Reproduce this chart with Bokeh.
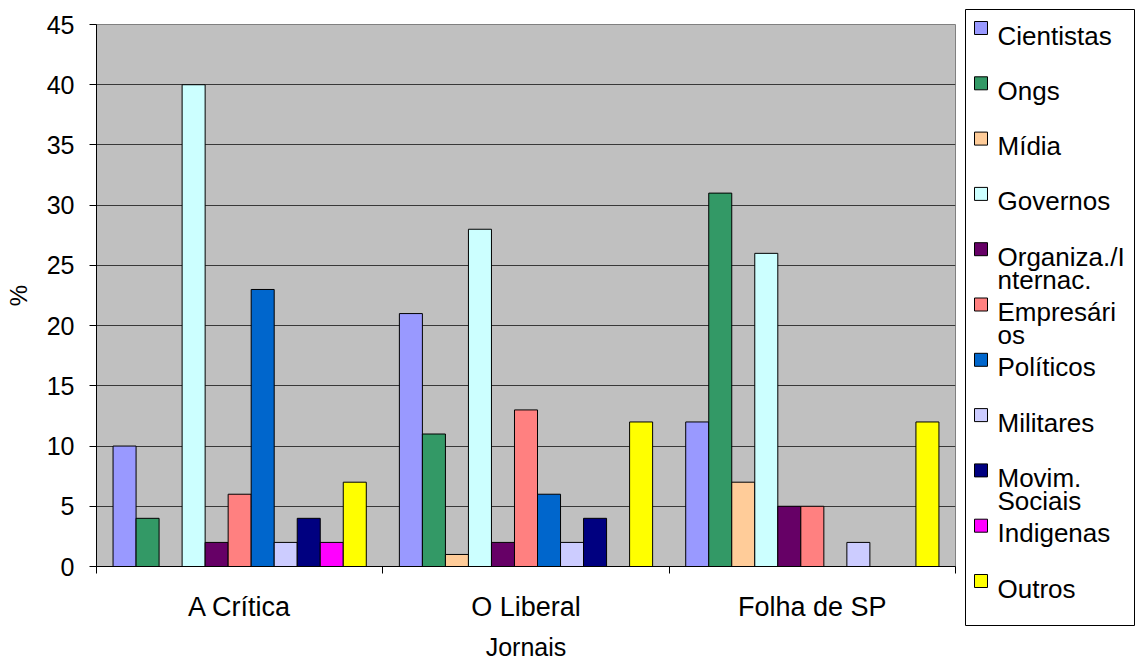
from bokeh.plotting import figure
from bokeh.layouts import row, column
from bokeh.models import ColumnDataSource, FixedTicker, Range1d
from bokeh.core.properties import value
from bokeh.embed import file_html
from bokeh.resources import INLINE

jornais = ["A Crítica", "O Liberal", "Folha de SP"]
series = ["Cientistas", "Ongs", "Mídia", "Governos", "Organiza./I\nnternac.",
          "Empresári\nos", "Políticos", "Militares", "Movim.\nSociais", "Indigenas", "Outros"]
colors = ["#9999FF", "#339966", "#FFCC99", "#CCFFFF", "#660066", "#FF8080",
          "#0066CC", "#CCCCFF", "#000080", "#FF00FF", "#FFFF00"]
cientistas = [10, 21, 12]
ongs = [4, 11, 31]
midia = [0, 1, 7]
governos = [40, 28, 26]
organiza = [2, 2, 5]
empresarios = [6, 13, 5]
politicos = [23, 6, 0]
militares = [2, 2, 2]
movim = [4, 4, 0]
indigenas = [2, 0, 0]
outros = [7, 12, 12]
values = [cientistas, ongs, midia, governos, organiza, empresarios,
          politicos, militares, movim, indigenas, outros]
y_ticks = list(range(0, 50, 5))

FONT = "Liberation Sans"
W, H = 1140, 663
left, right, top, bottom = 96, 955, 24, 566
PW = right + 1

p = figure(width=PW, height=H, output_backend="svg", toolbar_location=None,
           x_range=Range1d(0, 3), y_range=Range1d(0, 45),
           min_border_left=left, min_border_right=PW - right,
           min_border_top=top, min_border_bottom=H - bottom)
p.background_fill_color = "#C0C0C0"
p.border_fill_color = "white"
p.outline_line_color = "#808080"
p.outline_line_width = 1

bw = 0.0804
for j, (name, col, vals) in enumerate(zip(series, colors, values)):
    xs, tops = [], []
    for i, v in enumerate(vals):
        if v > 0:
            xs.append(i + 0.5 + (j - 5) * bw)
            tops.append(v)
    src = ColumnDataSource(dict(x=xs, top=tops))
    p.vbar(x="x", top="top", bottom=0, width=bw, source=src,
           fill_color=col, line_color="black", line_width=1)

# axes
p.xgrid.visible = False
p.ygrid.grid_line_color = "#383838"
p.ygrid.grid_line_width = 1
p.ygrid.ticker = FixedTicker(ticks=y_ticks)

p.yaxis.ticker = FixedTicker(ticks=y_ticks)
p.yaxis.axis_line_color = "black"
p.yaxis.major_tick_line_color = "black"
p.yaxis.major_tick_out = 7
p.yaxis.major_tick_in = 0
p.yaxis.minor_tick_line_color = None
p.yaxis.major_label_text_font = FONT
p.yaxis.major_label_text_font_size = "25px"
p.yaxis.major_label_text_color = "black"
p.yaxis.major_label_standoff = 15
p.yaxis.axis_label = "%"
p.yaxis.axis_label_text_font = FONT
p.yaxis.axis_label_text_font_size = "24px"
p.yaxis.axis_label_text_font_style = "normal"
p.yaxis.axis_label_text_color = "black"
p.yaxis.axis_label_standoff = 12

p.xaxis.ticker = FixedTicker(ticks=[0.5, 1.5, 2.5], minor_ticks=[0, 1, 2, 3])
p.xaxis.major_label_overrides = {0.5: jornais[0], 1.5: jornais[1], 2.5: jornais[2]}
p.xaxis.axis_line_color = "black"
p.xaxis.major_tick_line_color = None
p.xaxis.minor_tick_line_color = "black"
p.xaxis.minor_tick_out = 7
p.xaxis.minor_tick_in = 0
p.xaxis.major_label_text_font = FONT
p.xaxis.major_label_text_font_size = "27px"
p.xaxis.major_label_text_color = "black"
p.xaxis.major_label_standoff = 18
p.xaxis.axis_label = "Jornais"
p.xaxis.axis_label_text_font = FONT
p.xaxis.axis_label_text_font_size = "25px"
p.xaxis.axis_label_text_font_style = "normal"
p.xaxis.axis_label_text_color = "black"
p.xaxis.axis_label_standoff = 8

# legend panel (page-pixel coordinates)
LW = W - PW
leg = figure(width=LW, height=H, output_backend="svg", toolbar_location=None,
             x_range=Range1d(PW, W), y_range=Range1d(H, 0),
             min_border=0, min_border_left=0, min_border_right=0,
             min_border_top=0, min_border_bottom=0)
leg.axis.visible = False
leg.grid.visible = False
leg.outline_line_color = None
leg.background_fill_color = "white"
leg.border_fill_color = "white"

leg.quad(left=965, right=1134, top=9, bottom=625,
         fill_color="white", line_color="black", line_width=1)

row_h = 55.3
first_base = 35
gx0, gsize, tx, line_h = 974, 13, 997, 23
g_left, g_right, g_top, g_bot, g_col = [], [], [], [], []
t_x, t_y, t_text = [], [], []
for k, (name, col) in enumerate(zip(series, colors)):
    base = first_base + k * row_h
    g_left.append(gx0)
    g_right.append(gx0 + gsize)
    g_top.append(base - gsize - 1)
    g_bot.append(base - 1)
    g_col.append(col)
    for m, line in enumerate(name.split("\n")):
        t_x.append(tx)
        t_y.append(base + m * line_h)
        t_text.append(line)

leg.quad(left="left", right="right", top="top", bottom="bottom",
         fill_color="color", line_color="black", line_width=1,
         source=ColumnDataSource(dict(left=g_left, right=g_right, top=g_top,
                                      bottom=g_bot, color=g_col)))
leg.text(x="x", y="y", text="text",
         source=ColumnDataSource(dict(x=t_x, y=t_y, text=t_text)),
         text_font=value(FONT), text_font_size="26px", text_color="black",
         text_baseline="alphabetic", text_align="left")

layout = row(p, column(leg, spacing=0), spacing=0)
open("out.html", "w").write(file_html(layout, INLINE))
